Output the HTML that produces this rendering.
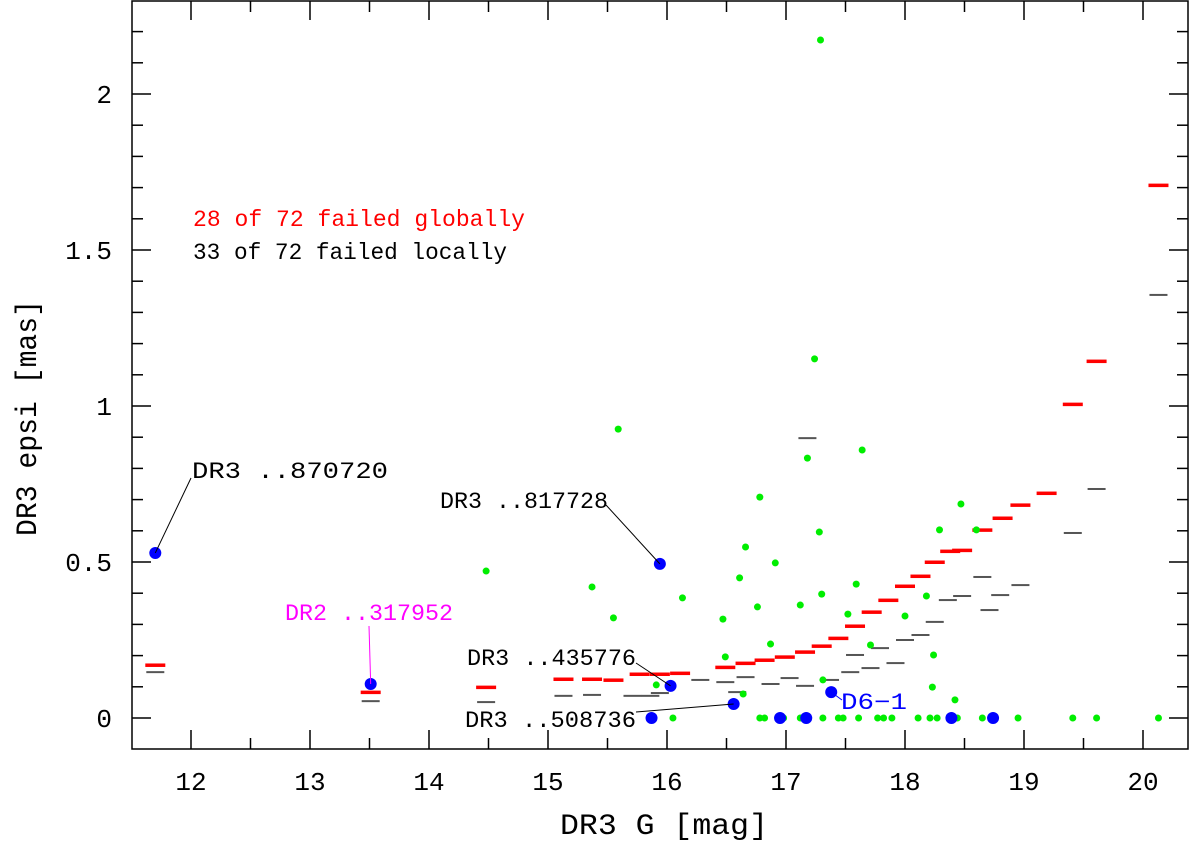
<!DOCTYPE html>
<html><head><meta charset="utf-8"><style>
html,body{margin:0;padding:0;background:#fff;}
svg{display:block;}
text{font-family:"Liberation Mono",monospace;}
</style></head><body>
<svg id="chart" width="1200" height="841" viewBox="0 0 1200 841" xmlns="http://www.w3.org/2000/svg">
<g id="ticks"></g>
<g id="marks"></g>
<g id="ann"></g>
<rect x="132" y="1" width="1056" height="748" fill="none" stroke="#000" stroke-width="1.5"/>
<text x="560" y="834" font-size="30" textLength="208" lengthAdjust="spacingAndGlyphs">DR3 G [mag]</text>
<text transform="translate(36,536) rotate(-90)" font-size="30" textLength="236" lengthAdjust="spacingAndGlyphs">DR3 epsi [mas]</text>
<text x="193" y="226" font-size="23" fill="#ff0000" textLength="332" lengthAdjust="spacingAndGlyphs">28 of 72 failed globally</text>
<text x="193" y="259" font-size="23" fill="#000" textLength="314" lengthAdjust="spacingAndGlyphs">33 of 72 failed locally</text>
</svg>
<script>
const xTicks = [12,13,14,15,16,17,18,19,20];
const yTicks = [0,0.5,1,1.5,2];
const yTickLabels = ["0","0.5","1","1.5","2"];
const globalG = [11.70,13.51,14.48,15.13,15.37,15.55,15.77,15.94,16.11,16.49,16.66,16.82,16.99,17.16,17.30,17.44,17.58,17.72,17.86,18.00,18.13,18.25,18.38,18.48,18.65,18.82,18.97,19.19,19.41,19.61,20.13];
const globalE = [0.170,0.083,0.099,0.125,0.125,0.122,0.141,0.141,0.144,0.163,0.176,0.186,0.196,0.212,0.231,0.256,0.295,0.340,0.378,0.423,0.455,0.500,0.535,0.538,0.603,0.641,0.683,0.721,1.006,1.144,1.708];
const localG = [11.70,13.51,14.48,15.13,15.37,15.71,15.86,15.94,16.28,16.49,16.66,16.59,16.87,17.03,17.16,17.18,17.37,17.54,17.71,17.92,17.58,17.79,18.00,18.13,18.25,18.36,18.48,18.65,18.71,18.80,18.97,19.41,19.61,20.13];
const localE = [0.147,0.054,0.051,0.071,0.074,0.071,0.071,0.080,0.122,0.115,0.131,0.083,0.109,0.128,0.103,0.897,0.122,0.147,0.160,0.176,0.202,0.224,0.250,0.266,0.308,0.378,0.391,0.452,0.346,0.394,0.426,0.593,0.734,1.356];
const greenG = [14.48,15.37,15.55,15.59,16.13,16.47,16.49,16.61,16.66,16.76,16.78,16.87,16.91,17.12,17.18,17.24,17.28,17.30,17.52,17.64,17.29,17.59,17.71,18.00,18.18,18.24,18.29,18.47,18.42,18.23,18.60,17.31,16.64,15.91,
 16.05,16.78,16.82,16.98,17.12,17.31,17.44,17.48,17.61,17.77,17.82,17.89,18.11,18.21,18.27,18.44,18.65,18.95,19.41,19.61,20.13];
const greenE = [0.471,0.420,0.321,0.926,0.385,0.317,0.196,0.449,0.548,0.356,0.708,0.237,0.497,0.362,0.833,1.151,0.596,0.397,0.333,0.859,2.173,0.429,0.234,0.327,0.391,0.202,0.603,0.686,0.058,0.099,0.603,0.122,0.077,0.106,
 0,0,0,0,0,0,0,0,0,0,0,0,0,0,0,0,0,0,0,0,0];
const blueG = [11.70,13.51,15.94,16.03,15.87,16.56,16.95,17.17,17.38,18.39,18.74];
const blueE = [0.529,0.109,0.494,0.103,0,0.045,0,0,0.083,0,0];

const NS='http://www.w3.org/2000/svg';
function X(g){return 191+(g-12)*119;}
function Y(e){return 718-e*312;}
function mk(parent,tag,attrs){const el=document.createElementNS(NS,tag);for(const k in attrs)el.setAttribute(k,attrs[k]);parent.appendChild(el);return el;}
const T=document.getElementById('ticks'), M=document.getElementById('marks'), A=document.getElementById('ann');

for(let g=11.5;g<=20.3;g+=0.5){
  const major=Math.abs(g-Math.round(g))<1e-6, L=major?19:11, x=X(g);
  if(x<133) continue;
  let t=mk(T,'line',{x1:x,y1:749,x2:x,y2:749-L,stroke:'#000','stroke-width':1.5});
  
  
  t=mk(T,'line',{x1:x,y1:1,x2:x,y2:1+L,stroke:'#000','stroke-width':1.5});
  
  
}
xTicks.forEach(v=>{
  const t=mk(T,'text',{x:X(v),y:790,'text-anchor':'middle','font-size':26,'font-family':'Liberation Serif, serif'});
  t.textContent=String(v);
  
  
});
for(let i=0;i<=23;i++){
  const e=i/10, y=Y(e); if(y<2) continue;
  const L=(i%5===0)?19:11;
  let t=mk(T,'line',{x1:132,y1:y,x2:132+L,y2:y,stroke:'#000','stroke-width':1.5});
  
  
  t=mk(T,'line',{x1:1188,y1:y,x2:1188-L,y2:y,stroke:'#000','stroke-width':1.5});
  
  
}
yTicks.forEach((v,i)=>{
  const t=mk(T,'text',{x:112,y:Y(v)+9,'text-anchor':'end','font-size':26,'font-family':'Liberation Serif, serif'});
  t.textContent=yTickLabels[i];
  
  
});

localG.forEach((g,i)=>{
  const d=mk(M,'rect',{x:X(g)-9,y:Y(localE[i])-1,width:18,height:2,fill:'#555'});
  
  
});
globalG.forEach((g,i)=>{
  const d=mk(M,'rect',{x:X(g)-10,y:Y(globalE[i])-1.5,width:20,height:3.5,fill:'#ff0000'});
  
  
});
greenG.forEach((g,i)=>{
  const c=mk(M,'circle',{cx:X(g),cy:Y(greenE[i]),r:3.5,fill:'#00ee00'});
  
  
});

const anns=[[0,'DR3 ..870720',192,478,191,478,'#000',196],
 [2,'DR3 ..817728',440,508,606,505,'#000',168],
 [1,'DR2 ..317952',285,620,369,626,'#ff00ff',168],
 [3,'DR3 ..435776',467,665,636,663,'#000',169],
 [5,'DR3 ..508736',465,727,636,712,'#000',171],
 [8,'D6−1',841,709,842,700,'#0000ff',66]];
anns.forEach(a=>{
  const l=mk(A,'line',{x1:X(blueG[a[0]]),y1:Y(blueE[a[0]]),x2:a[4],y2:a[5],stroke:a[6],'stroke-width':1});
  
  
  const t=mk(A,'text',{x:a[2],y:a[3],'font-size':23,fill:a[6],textLength:a[7],lengthAdjust:'spacingAndGlyphs'});
  t.textContent=a[1];
  
  
});
blueG.forEach((g,i)=>{
  const c=mk(M,'circle',{cx:X(g),cy:Y(blueE[i]),r:6,fill:'#0000ff'});
  
  
});
</script>
</body></html>
